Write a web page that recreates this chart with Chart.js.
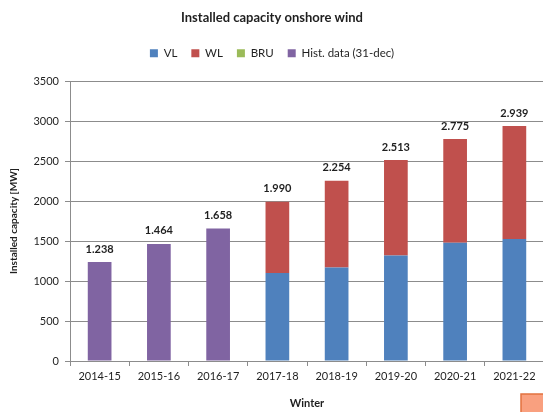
<!DOCTYPE html>
<html>
<head>
<meta charset="utf-8">
<script src="https://cdn.jsdelivr.net/npm/chart.js@4.4.1/dist/chart.umd.min.js"></script>
<style>
  html, body { margin: 0; padding: 0; background: #fff; overflow: hidden; }
  #wrap { position: relative; width: 550px; height: 412px; }
</style>
</head>
<body>
<div id="wrap"><canvas id="c" width="550" height="412"></canvas></div>
<script>
// Winters on the category axis
const winters = ['2014-15', '2015-16', '2016-17', '2017-18', '2018-19', '2019-20', '2020-21', '2021-22'];

// Installed onshore wind capacity in MW, per region (forecast years) and historic totals
const vl   = [null, null, null, 1100, 1170, 1320, 1480, 1525];
const wl   = [null, null, null,  890, 1084, 1193, 1295, 1414];
const bru  = [null, null, null,    0,    0,    0,    0,    0];
const hist = [1238, 1464, 1658, null, null, null, null, null];

const yTicks = [0, 500, 1000, 1500, 2000, 2500, 3000, 3500];

const FONT = 'Lato, "Open Sans", sans-serif';
const gridColor = '#8c8c8c';

// totals printed above each stack, in the "1.234" format
function fmt(v) {
  const s = String(Math.round(v));
  return s.length > 3 ? s.slice(0, s.length - 3) + '.' + s.slice(-3) : s;
}

const totalsLabel = {
  id: 'totalsLabel',
  beforeInit(chart) {
    // leave extra room between the legend and the plot area
    const legend = chart.legend;
    if (legend) {
      const fit = legend.fit.bind(legend);
      legend.fit = function () { fit(); this.height += 12; };
    }
  },
  afterDatasetsDraw(chart) {
    const ctx = chart.ctx;
    const yScale = chart.scales.y;
    const xScale = chart.scales.x;
    ctx.save();
    ctx.font = 'bold 11px ' + FONT;
    ctx.fillStyle = '#1f1f1f';
    ctx.textAlign = 'center';
    ctx.textBaseline = 'middle';
    winters.forEach((w, i) => {
      const total = (vl[i] || 0) + (wl[i] || 0) + (bru[i] || 0) + (hist[i] || 0);
      const x = xScale.getPixelForValue(i);
      const y = yScale.getPixelForValue(total);
      ctx.fillText(fmt(total), x, y - 13);
    });
    ctx.restore();
  },
  afterDraw(chart) {
    // small shape sitting in the lower right corner of the page
    const ctx = chart.ctx;
    ctx.save();
    ctx.fillStyle = '#f9a07f';
    ctx.strokeStyle = '#e2713f';
    ctx.lineWidth = 1.5;
    ctx.fillRect(521, 394, 40, 30);
    ctx.strokeRect(521, 394, 40, 30);
    ctx.restore();
  }
};

new Chart(document.getElementById('c'), {
  type: 'bar',
  data: {
    labels: winters,
    datasets: [
      { label: 'VL', data: vl, backgroundColor: '#4f81bd', stack: 's' },
      { label: 'WL', data: wl, backgroundColor: '#c0504d', stack: 's' },
      { label: 'BRU', data: bru, backgroundColor: '#9bbb59', stack: 's' },
      { label: 'Hist. data (31-dec)', data: hist, backgroundColor: '#8064a2', stack: 's' }
    ]
  },
  options: {
    responsive: false,
    animation: false,
    devicePixelRatio: 1,
    layout: { padding: { top: 0, right: 6, bottom: 2, left: 0 } },
    datasets: { bar: { barPercentage: 0.4, categoryPercentage: 1.0 } },
    plugins: {
      title: {
        display: true,
        text: 'Installed capacity onshore wind',
        color: '#1f1f1f',
        font: { family: FONT, size: 13, weight: 'bold' },
        padding: { top: 10, bottom: 8 }
      },
      legend: {
        display: true,
        labels: {
          color: '#1f1f1f',
          font: { family: FONT, size: 11.5 },
          boxWidth: 8,
          boxHeight: 8,
          padding: 14
        }
      },
      tooltip: { enabled: false }
    },
    scales: {
      x: {
        stacked: true,
        grid: { display: true, offset: true, drawOnChartArea: false, drawTicks: true, tickLength: 5, color: gridColor },
        border: { display: true, color: gridColor },
        ticks: { color: '#1f1f1f', font: { family: FONT, size: 11 }, padding: 4, maxRotation: 0 },
        title: { display: true, text: 'Winter', color: '#1f1f1f', font: { family: FONT, size: 11, weight: 'bold' }, padding: { top: 4, bottom: 0 } },
        afterFit(scale) { scale.height = 49; }
      },
      y: {
        stacked: true,
        min: 0,
        max: 3500,
        afterBuildTicks(scale) { scale.ticks = yTicks.map(v => ({ value: v })); },
        grid: { color: gridColor, tickLength: 5 },
        border: { display: true, color: gridColor },
        ticks: { color: '#1f1f1f', font: { family: FONT, size: 11 }, padding: 6, callback: v => String(v) },
        title: { display: true, text: 'Installed capacity [MW]', color: '#1f1f1f', font: { family: FONT, size: 10, weight: 'bold' }, padding: { top: 8, bottom: 0 } },
        afterFit(scale) { scale.width = 70; }
      }
    }
  },
  plugins: [totalsLabel]
});
</script>
</body>
</html>
